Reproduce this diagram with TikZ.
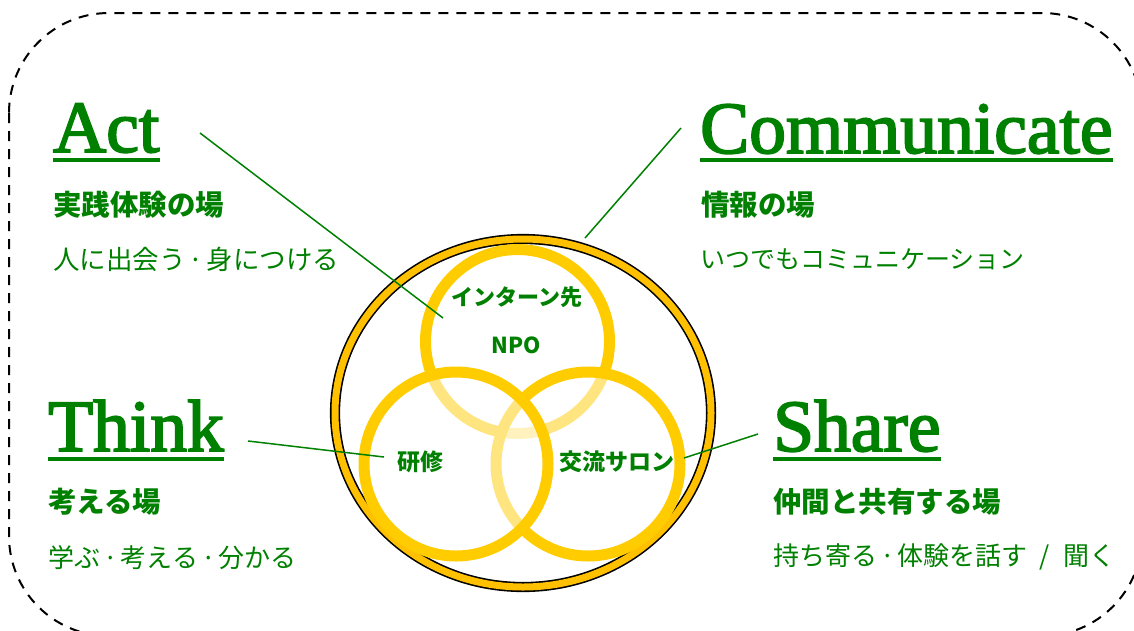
\documentclass[tikz,border=0pt]{standalone}
\usepackage{fontspec}
\usetikzlibrary{shapes.geometric}
\setmainfont{Liberation Serif}
\newfontfamily\headfont[FakeBold=2.5]{Liberation Serif}
\newfontfamily\jp{Noto Sans CJK JP}
\definecolor{grn}{RGB}{0,128,0}
\definecolor{ringgold}{RGB}{255,192,0}
\definecolor{venngold}{RGB}{255,204,0}
\newcommand{\dotsep}{\hspace{3pt}·\hspace{3pt}}
\begin{document}
\begin{tikzpicture}[x=1pt,y=-1pt,
  head/.style={anchor=base west, inner sep=0pt, text=grn, font=\headfont\fontsize{73.5}{74}\selectfont},
  sub/.style={anchor=west, inner sep=0pt, text=grn, font=\jp\bfseries\fontsize{28.5}{30}\selectfont},
  desc/.style={anchor=west, inner sep=0pt, text=grn, font=\jp\fontsize{26}{30}\selectfont},
  inlab/.style={text=grn, inner sep=0pt, font=\jp\bfseries\fontsize{22}{26}\selectfont},
  uline/.style={grn, line width=4pt},
  conn/.style={grn, line width=1.5pt},
  vennc/.style={circle, minimum size=184pt, inner sep=0pt, draw=venngold, line width=11pt, fill=white, fill opacity=0.5},
]
\useasboundingbox (0,0) rectangle (1134,630);
\draw[dash pattern=on 10pt off 8pt, line width=2pt, rounded corners=100pt] (9,13) rectangle (1142,636);

% outer ring
\node[ellipse, minimum width=376pt, minimum height=348pt, inner sep=0pt, draw=black, line width=1.6pt, double=ringgold, double distance=7pt] (ring) at (523,413) {};

% venn circles
\node[vennc] (ctop) at (517.5,341.5) {};
\node[vennc] (cright) at (588,464) {};
\node[vennc] (cleft) at (456,464) {};

\node[inlab] (intern) at (517,297) {インターン先};
\node[inlab] (npo) at (516,345) {NPO};
\node[inlab, font=\jp\bfseries\fontsize{23}{26}\selectfont] (kenshu) at (420,462) {研修};
\node[inlab, font=\jp\bfseries\fontsize{23}{26}\selectfont] (salon) at (617,462) {交流サロン};

% headings
\node[head] (act) at (53,152) {Act};
\draw[uline] ([yshift=-8pt]act.base west) -- ([yshift=-8pt]act.base east);
\node[sub] (actsub) at (53,205) {実践体験の場};
\node[desc, font=\jp\fontsize{26.5}{30}\selectfont] (actdesc) at (53,259) {人に出会う\dotsep 身につける};

\node[head] (comm) at (700,153) {Communicate};
\draw[uline] ([yshift=-7pt]comm.base west) -- ([yshift=-7pt]comm.base east);
\node[sub] (commsub) at (701,205) {情報の場};
\node[desc, font=\jp\fontsize{25}{30}\selectfont] (commdesc) at (700,259) {いつでもコミュニケーション};

\node[head] (think) at (48,451) {Think};
\draw[uline] ([yshift=-8pt]think.base west) -- ([yshift=-8pt]think.base east);
\node[sub] (thinksub) at (48,502) {考える場};
\node[desc] (thinkdesc) at (48,558) {学ぶ\dotsep 考える\dotsep 分かる};

\node[head] (share) at (773,451) {Share};
\draw[uline] ([yshift=-8pt]share.base west) -- ([yshift=-8pt]share.base east);
\node[sub] (sharesub) at (773,502) {仲間と共有する場};
\node[desc] (sharedesc) at (773,557) {持ち寄る\dotsep 体験を話す\hspace{12pt}/\hspace{14pt}聞く};

% connectors
\coordinate (actA) at (200,133);
\coordinate (actB) at (443,318);
\coordinate (commA) at (681,128);
\coordinate (commB) at (585,238);
\coordinate (thinkA) at (248,441);
\coordinate (thinkB) at (384,457);
\coordinate (shareA) at (758,434);
\coordinate (shareB) at (684,458);
\draw[conn] (actA) -- (actB);
\draw[conn] (commA) -- (commB);
\draw[conn] (thinkA) -- (thinkB);
\draw[conn] (shareA) -- (shareB);
\end{tikzpicture}
\end{document}
